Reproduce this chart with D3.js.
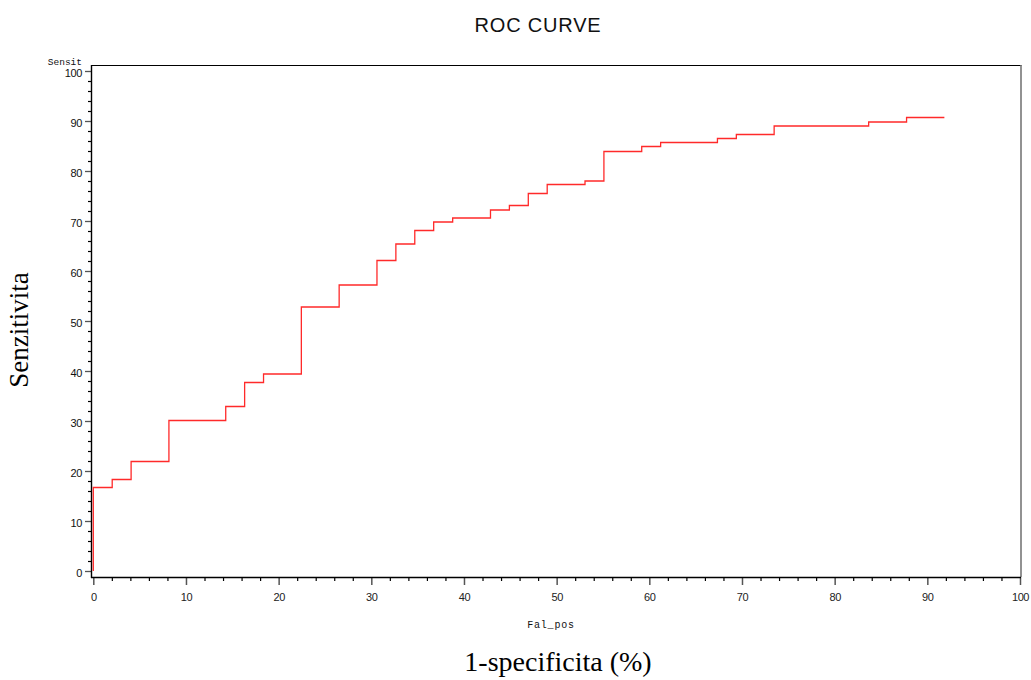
<!DOCTYPE html>
<html>
<head>
<meta charset="utf-8">
<script src="https://cdn.jsdelivr.net/npm/d3@7"></script>
<style>
  html, body { margin: 0; padding: 0; background: #fff; }
  svg { display: block; }
</style>
</head>
<body>
<svg id="chart" width="1031" height="680"></svg>
<script>
// ---- data ----
const falPos = [0, 0, 2.04, 4.08, 8.16, 14.29, 16.33, 18.37, 22.45, 26.53, 30.61, 32.65,
  34.69, 36.73, 38.78, 42.86, 44.90, 46.94, 48.98, 53.06, 55.10, 59.18, 61.22, 67.35,
  69.39, 73.47, 83.67, 87.76, 91.84];
const sensit = [0, 16.7, 18.3, 21.9, 30.1, 32.9, 37.7, 39.4, 52.8, 57.2, 62.1, 65.4,
  68.1, 69.8, 70.6, 72.2, 73.1, 75.5, 77.3, 78.0, 83.9, 84.9, 85.7, 86.5, 87.3,
  89.0, 89.8, 90.7, 90.7];
const xMajorTicks = [0, 10, 20, 30, 40, 50, 60, 70, 80, 90, 100];
const yMajorTicks = [0, 10, 20, 30, 40, 50, 60, 70, 80, 90, 100];
const minorStep = 2;
const titleText = "ROC CURVE";
const yVarText = "Sensit";
const xVarText = "Fal_pos";
const yTitleText = "Senzitivita";
const xTitleText = "1-specificita (%)";

// ---- layout ----
const svg = d3.select("#chart");
const frame = { left: 91, right: 1021, top: 65, bottom: 577 };
const x = d3.scaleLinear().domain([0, 100]).range([93.3, 1020]);
const y = d3.scaleLinear().domain([0, 100]).range([571, 71]);
const minorTicks = d3.range(0, 100 + 0.001, minorStep).filter(v => v % 10 !== 0);

// frame
svg.append("line").attr("x1", frame.left).attr("x2", frame.right + 0.5)
  .attr("y1", frame.top + 0.5).attr("y2", frame.top + 0.5)
  .attr("stroke", "#000").attr("stroke-width", 1.2);
svg.append("line").attr("x1", frame.right).attr("x2", frame.right)
  .attr("y1", frame.top).attr("y2", frame.bottom)
  .attr("stroke", "#777").attr("stroke-width", 1.6);

// x axis
const xAxisMajor = d3.axisBottom(x).tickValues(xMajorTicks).tickSize(8).tickPadding(8)
  .tickFormat(d3.format("d"));
const gx = svg.append("g").attr("transform", `translate(0,${frame.bottom})`).call(xAxisMajor);
gx.select(".domain").remove();
gx.selectAll(".tick line").attr("stroke", "#555").attr("stroke-width", 1.5);
gx.selectAll(".tick text").attr("font-family", "Liberation Sans, Arial, sans-serif")
  .attr("font-size", 11).attr("fill", "#222").attr("letter-spacing", "-0.4px");
const gxm = svg.append("g").attr("transform", `translate(0,${frame.bottom})`)
  .call(d3.axisBottom(x).tickValues(minorTicks).tickSize(4).tickFormat(""));
gxm.select(".domain").remove();
gxm.selectAll(".tick line").attr("stroke", "#000").attr("stroke-width", 1.2);
svg.append("line").attr("x1", frame.left).attr("x2", frame.right)
  .attr("y1", frame.bottom + 0.5).attr("y2", frame.bottom + 0.5)
  .attr("stroke", "#000").attr("stroke-width", 1.4);

// y axis
const yAxisMajor = d3.axisLeft(y).tickValues(yMajorTicks).tickSize(6).tickPadding(3)
  .tickFormat(d3.format("d"));
const gy = svg.append("g").attr("transform", `translate(${frame.left},0)`).call(yAxisMajor);
gy.select(".domain").remove();
gy.selectAll(".tick line").attr("stroke", "#555").attr("stroke-width", 1.3);
gy.selectAll(".tick text").attr("font-family", "Liberation Sans, Arial, sans-serif")
  .attr("font-size", 11).attr("fill", "#111").attr("letter-spacing", "-0.4px")
  .attr("dy", "0.5em");
const gym = svg.append("g").attr("transform", `translate(${frame.left},0)`)
  .call(d3.axisLeft(y).tickValues(minorTicks).tickSize(3).tickFormat(""));
gym.select(".domain").remove();
gym.selectAll(".tick line").attr("stroke", "#000").attr("stroke-width", 1.2);
svg.append("line").attr("x1", frame.left + 0.5).attr("x2", frame.left + 0.5)
  .attr("y1", frame.top).attr("y2", frame.bottom + 1)
  .attr("stroke", "#000").attr("stroke-width", 1.4);

// curve
const pts = falPos.map((v, i) => [v, sensit[i]]);
const line = d3.line().x(d => x(d[0])).y(d => y(d[1])).curve(d3.curveStepAfter);
svg.append("path").datum(pts).attr("d", line)
  .attr("fill", "none").attr("stroke", "#ff2a2a").attr("stroke-width", 1.3);

// texts
svg.append("text").attr("x", 538).attr("y", 31.5).attr("text-anchor", "middle")
  .attr("font-family", "Liberation Sans, Arial, sans-serif").attr("font-size", 20)
  .attr("letter-spacing", "0.8px").attr("fill", "#111").text(titleText);
svg.append("text").attr("x", 82).attr("y", 65).attr("text-anchor", "end")
  .attr("font-family", "Liberation Mono, Courier New, monospace").attr("font-size", 9.5)
  .attr("fill", "#111").text(yVarText);
svg.append("text").attr("x", 551).attr("y", 628).attr("text-anchor", "middle")
  .attr("font-family", "Liberation Mono, Courier New, monospace").attr("font-size", 10)
  .attr("letter-spacing", "0.8px").attr("fill", "#111").text(xVarText);
svg.append("text").attr("transform", "translate(28,330) rotate(-90)")
  .attr("text-anchor", "middle").attr("font-family", "Liberation Serif, Times New Roman, serif")
  .attr("font-size", 27).attr("fill", "#000").text(yTitleText);
svg.append("text").attr("x", 558).attr("y", 671).attr("text-anchor", "middle")
  .attr("font-family", "Liberation Serif, Times New Roman, serif")
  .attr("font-size", 28).attr("fill", "#000").text(xTitleText);
</script>
</body>
</html>
